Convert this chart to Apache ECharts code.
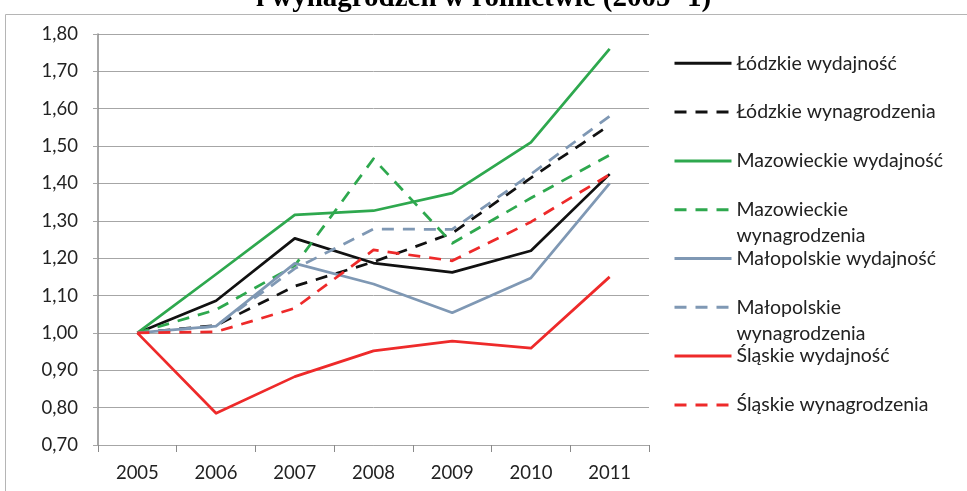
<!DOCTYPE html>
<html>
<head>
<meta charset="utf-8">
<script src="https://cdn.jsdelivr.net/npm/echarts@6/dist/echarts.min.js"></script>
<style>
  html, body { margin: 0; padding: 0; background: #ffffff; }
  #chart { width: 967px; height: 491px; }
</style>
</head>
<body>
<div id="chart"></div>
<script>
// Years on the category axis
const years = ['2005', '2006', '2007', '2008', '2009', '2010', '2011'];

// Index values (2005 = 1) per voivodeship
const lodzkieWydajnosc      = [1.00, 1.086, 1.253, 1.187, 1.162, 1.220, 1.425];
const lodzkieWynagrodzenia  = [1.00, 1.020, 1.125, 1.190, 1.267, 1.415, 1.556];
const mazowieckieWydajnosc  = [1.00, 1.157, 1.316, 1.327, 1.374, 1.510, 1.760];
const mazowieckieWynagrodz  = [1.00, 1.062, 1.180, 1.466, 1.240, 1.361, 1.476];
const malopolskieWydajnosc  = [1.00, 1.018, 1.186, 1.131, 1.054, 1.147, 1.400];
const malopolskieWynagrodz  = [1.00, 1.018, 1.172, 1.278, 1.277, 1.425, 1.580];
const slaskieWydajnosc      = [1.00, 0.785, 0.883, 0.952, 0.978, 0.959, 1.150];
const slaskieWynagrodzenia  = [1.00, 1.003, 1.066, 1.222, 1.193, 1.297, 1.424];

// Value-axis range and step
const yMin = 0.7, yMax = 1.8, yStep = 0.1;

const titleText = 'i wynagrodzeń w rolnictwie (2005=1)';

const C_BLACK = '#111111';
const C_GREEN = '#2ea84e';
const C_BLUE  = '#7f98b4';
const C_RED   = '#ee2a2a';
const DASH = [12, 9];

const seriesDefs = [
  { name: 'Łódzkie wydajność',          data: lodzkieWydajnosc,     color: C_BLACK, dash: 'solid', wrap: null },
  { name: 'Łódzkie wynagrodzenia',      data: lodzkieWynagrodzenia, color: C_BLACK, dash: DASH,    wrap: null },
  { name: 'Mazowieckie wydajność',      data: mazowieckieWydajnosc, color: C_GREEN, dash: 'solid', wrap: null },
  { name: 'Mazowieckie wynagrodzenia',  data: mazowieckieWynagrodz, color: C_GREEN, dash: DASH,    wrap: ['Mazowieckie', 'wynagrodzenia'] },
  { name: 'Małopolskie wydajność',      data: malopolskieWydajnosc, color: C_BLUE,  dash: 'solid', wrap: null },
  { name: 'Małopolskie wynagrodzenia',  data: malopolskieWynagrodz, color: C_BLUE,  dash: DASH,    wrap: ['Małopolskie', 'wynagrodzenia'] },
  { name: 'Śląskie wydajność',          data: slaskieWydajnosc,     color: C_RED,   dash: 'solid', wrap: null },
  { name: 'Śląskie wynagrodzenia',      data: slaskieWynagrodzenia, color: C_RED,   dash: DASH,    wrap: null }
];

const FONT = 'Lato';
const LEGEND_FS = 19.5;
const LINE_H = 26;
const LEGEND_LEFT = 673;
const LEGEND_FIRST = 63.3;
const LEGEND_STEP = 48.8;

// One legend block per entry, so the wrapped names keep the key on their first line
const legends = seriesDefs.map((s, i) => {
  const centre = LEGEND_FIRST + i * LEGEND_STEP;
  const lines = s.wrap ? 3 : 1;
  return {
    data: [s.name],
    orient: 'vertical',
    left: LEGEND_LEFT,
    top: centre - (lines * LINE_H) / 2,
    padding: 0,
    itemWidth: 57,
    itemHeight: 14,
    itemGap: 0,
    selectedMode: false,
    // key shows only the line stroke, no marker
    itemStyle: { opacity: 0 },
    lineStyle: { width: 3, opacity: 1 },
    formatter: () => (s.wrap ? ' \n' + s.wrap.join('\n') : s.name),
    textStyle: { fontFamily: FONT, fontSize: LEGEND_FS, color: '#222222', lineHeight: LINE_H }
  };
});

const chart = echarts.init(document.getElementById('chart'), null, { renderer: 'canvas' });

chart.setOption({
  animation: false,
  backgroundColor: '#ffffff',
  title: {
    text: titleText,
    left: 'center',
    top: -16,
    padding: [0, 0, 0, 14],
    textStyle: { fontFamily: 'Liberation Serif', fontWeight: 'bold', fontSize: 29, color: '#000000' }
  },
  graphic: [{
    type: 'rect',
    silent: true,
    shape: { x: 5.5, y: 14.5, width: 1000, height: 520 },
    style: { fill: null, stroke: '#b5b5b5', lineWidth: 1 }
  }],
  legend: legends,
  grid: { left: 98, right: 318, top: 34, bottom: 46, containLabel: false },
  xAxis: {
    type: 'category',
    data: years,
    boundaryGap: true,
    axisLine: { show: true, lineStyle: { color: '#a6a6a6', width: 1 } },
    axisTick: { show: true, length: 7, alignWithLabel: false, lineStyle: { color: '#8a8a8a' } },
    axisLabel: { margin: 19, fontFamily: FONT, fontSize: 18.5, color: '#222222' }
  },
  yAxis: {
    type: 'value',
    min: yMin,
    max: yMax,
    interval: yStep,
    axisLine: { show: true, lineStyle: { color: '#888888', width: 1.5 } },
    axisTick: { show: true, length: 5, lineStyle: { color: '#a6a6a6' } },
    splitLine: { show: true, lineStyle: { color: '#a6a6a6', width: 1 } },
    axisLabel: {
      margin: 20,
      fontFamily: FONT, fontSize: 18.5, color: '#222222',
      formatter: v => v.toFixed(2).replace('.', ',')
    }
  },
  series: seriesDefs.map(s => ({
    name: s.name,
    type: 'line',
    data: s.data,
    symbol: 'none',
    showSymbol: false,
    itemStyle: { color: s.color },
    lineStyle: { color: s.color, width: 2.75, type: s.dash, join: 'round' }
  }))
});
</script>
</body>
</html>
